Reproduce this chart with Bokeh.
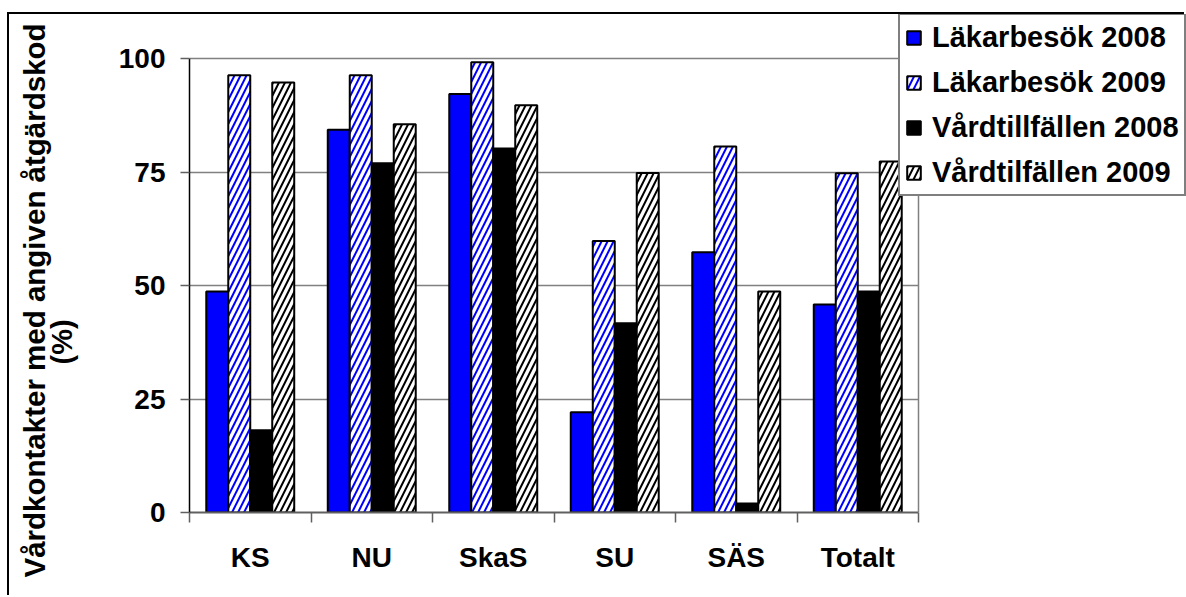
import numpy as np
from bokeh.plotting import figure
from bokeh.models import (Range1d, FixedTicker, ColumnDataSource, Legend, LegendItem,
                          Span, Title)
from bokeh.transform import dodge
from bokeh.embed import file_html
from bokeh.resources import INLINE

# ---------------- data ----------------
categories = ["KS", "NU", "SkaS", "SU", "SÄS", "Totalt"]
lakarbesok_2008 = [48.7, 84.3, 92.2, 22.1, 57.3, 45.8]
lakarbesok_2009 = [96.3, 96.3, 99.2, 59.8, 80.6, 74.7]
vardtillfallen_2008 = [18.1, 76.9, 80.2, 41.7, 2.0, 48.7]
vardtilfallen_2009 = [94.7, 85.5, 89.7, 74.8, 48.7, 77.3]
series_names = ["Läkarbesök 2008", "Läkarbesök 2009", "Vårdtillfällen 2008", "Vårdtilfällen 2009"]
y_ticks = [0, 25, 50, 75, 100]
y_label_line1 = "Vårdkontakter med angiven åtgärdskod"
y_label_line2 = "(%)"

FONT = "Liberation Sans"

# ---------------- layout constants (pixels) ----------------
W, H = 1177, 583          # canvas size (page minus 7+2 px left, 12+2 px top)
LEFT, BOTTOM = 180, 85    # borders around the drawing frame
CAT_PX = 121.5            # width of one category slot
UNIT_PX = 4.54            # pixels per percent

n_cat = len(categories)
x_end = (W - LEFT) / CAT_PX          # frame extends right, under the legend
y_end = (H - BOTTOM) / UNIT_PX       # frame extends up, under the legend
y_max = y_ticks[-1]

centers = np.arange(n_cat) + 0.5
src = ColumnDataSource(dict(x=centers, s0=lakarbesok_2008, s1=lakarbesok_2009,
                            s2=vardtillfallen_2008, s3=vardtilfallen_2009))

p = figure(width=W, height=H, x_range=Range1d(0, x_end), y_range=Range1d(0, y_end),
           output_backend="svg", toolbar_location=None,
           min_border_left=LEFT, min_border_right=0, min_border_top=0, min_border_bottom=BOTTOM)
p.margin = (12, 0, 0, 7)
p.styles = {"border-left": "2px solid black", "border-top": "2px solid black"}
p.background_fill_color = "white"
p.border_fill_color = "white"
p.outline_line_color = None

bar_w = 0.181
offsets = [-0.2715, -0.0905, 0.0905, 0.2715]
styles = [
    dict(fill_color="#0000FF"),
    dict(fill_color="white", hatch_pattern="/", hatch_color="#0000FF", hatch_scale=12, hatch_weight=2),
    dict(fill_color="black"),
    dict(fill_color="white", hatch_pattern="/", hatch_color="black", hatch_scale=12, hatch_weight=2),
]

# grid lines only across the category area
p.xgrid.visible = False
grid_ticks = [t for t in y_ticks if t > 0]
try:
    p.ygrid.ticker = FixedTicker(ticks=grid_ticks)
    p.ygrid.cross_bounds = (0, n_cat)
    p.ygrid.grid_line_color = "#808080"
    p.ygrid.grid_line_width = 1.5
except AttributeError:
    p.ygrid.visible = False
    p.segment(x0=[0] * len(grid_ticks), x1=[n_cat] * len(grid_ticks), y0=grid_ticks, y1=grid_ticks,
              line_color="#808080", line_width=1.5)

renderers = []
for i, (off, st) in enumerate(zip(offsets, styles)):
    r = p.vbar(x=dodge("x", off, range=p.x_range), top="s%d" % i, width=bar_w, bottom=0,
               source=src, line_color="black", line_width=2, **st)
    renderers.append(r)

# right edge of the plot area
p.add_layout(Span(location=n_cat, dimension="height", line_color="#808080", line_width=1.5))

# y axis
ya = p.yaxis[0]
ya.bounds = (0, y_max)
ya.ticker = FixedTicker(ticks=y_ticks, minor_ticks=[])
ya.axis_line_color = "black"
ya.axis_line_width = 1.5
ya.major_tick_out = 9
ya.major_tick_in = 0
ya.major_tick_line_color = "#606060"
ya.major_tick_line_width = 1.5
ya.minor_tick_line_color = None
ya.major_label_text_font = FONT
ya.major_label_text_font_style = "bold"
ya.major_label_text_font_size = "28px"
ya.major_label_text_color = "black"
ya.major_label_standoff = 15

# y axis title as two lines (titles in the left panel, with a blank spacer first)
title_kw = dict(text_font=FONT, text_font_style="bold", text_color="black")
spacer = Title(text=" ", align="center", standoff=4, text_font_size="29px", **title_kw)
t2 = Title(text=y_label_line2, align="left", offset=148, standoff=0, text_font_size="29px", **title_kw)
try:
    t1 = Title(text=y_label_line1, align="left", offset=-65, standoff=-15,
               text_font_size="29.5px", **title_kw)
except Exception:
    t1 = Title(text=y_label_line1, align="left", offset=-65, standoff=0,
               text_font_size="29.5px", **title_kw)
p.add_layout(spacer, "left")
p.add_layout(t2, "left")
p.add_layout(t1, "left")

# x axis: labels at category centres, tick marks at category boundaries
xa = p.xaxis[0]
xa.bounds = (0, n_cat)
xa.ticker = FixedTicker(ticks=list(centers), minor_ticks=list(range(n_cat + 1)))
xa.major_label_overrides = {float(c): name for c, name in zip(centers, categories)}
xa.axis_line_color = "#606060"
xa.axis_line_width = 2
xa.major_tick_out = 0
xa.major_tick_in = 0
xa.major_tick_line_color = None
xa.minor_tick_out = 10
xa.minor_tick_in = 0
xa.minor_tick_line_color = "#606060"
xa.minor_tick_line_width = 1.5
xa.major_label_text_font = FONT
xa.major_label_text_font_style = "bold"
xa.major_label_text_font_size = "28px"
xa.major_label_text_color = "black"
xa.major_label_standoff = 19

# legend
legend = Legend(items=[LegendItem(label=n, renderers=[r]) for n, r in zip(series_names, renderers)],
                location=(709, 316), orientation="vertical",
                label_text_font=FONT, label_text_font_style="bold", label_text_font_size="29px",
                label_text_color="black",
                glyph_width=17, glyph_height=17, label_standoff=10, label_height=34,
                spacing=11, padding=5, margin=0,
                border_line_color="black", border_line_width=2,
                background_fill_color="white", background_fill_alpha=1)
p.add_layout(legend)

open("out.html", "w").write(file_html(p, INLINE))
